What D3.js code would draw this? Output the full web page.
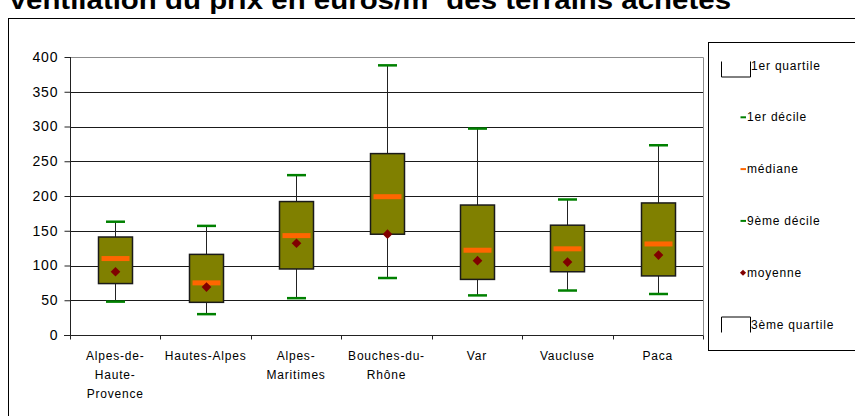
<!DOCTYPE html>
<html>
<head>
<meta charset="utf-8">
<script src="https://cdn.jsdelivr.net/npm/d3@7"></script>
<style>
  html, body { margin: 0; padding: 0; background: #fff; overflow: hidden; }
  svg { display: block; }
  text { font-family: "Liberation Sans", Arial, sans-serif; fill: #000; }
</style>
</head>
<body>
<svg id="chart" width="855" height="416"></svg>
<script>
// Départements (lignes des libellés d'axe)
const categories = ["Alpes-de-Haute-Provence", "Hautes-Alpes", "Alpes-Maritimes", "Bouches-du-Rhône", "Var", "Vaucluse", "Paca"];
const categoryLines = [["Alpes-de-", "Haute-", "Provence"], ["Hautes-Alpes"], ["Alpes-", "Maritimes"], ["Bouches-du-", "Rhône"], ["Var"], ["Vaucluse"], ["Paca"]];

// Prix en euros/m²
const decile1   = [48, 30, 53, 82, 57, 64, 59];
const quartile1 = [74, 47, 95, 145, 80, 91, 85];
const mediane   = [110, 75, 143, 199, 122, 124, 131];
const moyenne   = [91, 69, 132, 145, 107, 105, 115];
const quartile3 = [141, 116, 192, 261, 187, 158, 190];
const decile9   = [163, 157, 230, 388, 297, 195, 273];

const yTicks = [0, 50, 100, 150, 200, 250, 300, 350, 400];
const legendLabels = ["1er quartile", "1er décile", "médiane", "9ème décile", "moyenne", "3ème quartile"];
const title = "Ventilation du prix en euros/m² des terrains achetés";

const svg = d3.select("#chart");

const plot = { left: 70, right: 703, top: 57, bottom: 335 };

const x = d3.scaleBand().domain(categories).range([plot.left, plot.right]).padding(0);
const y = d3.scaleLinear().domain([0, 400]).range([plot.bottom, plot.top]);

// Title (partly clipped at the top of the page)
svg.append("text")
  .attr("x", 8).attr("y", 9)
  .attr("font-size", 26).attr("font-weight", "bold")
  .attr("textLength", 723).attr("lengthAdjust", "spacingAndGlyphs")
  .text(title);

// Outer chart frame
svg.append("rect")
  .attr("x", 8.5).attr("y", 18.5)
  .attr("width", 900).attr("height", 500)
  .attr("fill", "none").attr("stroke", "#000").attr("stroke-width", 1);

// Horizontal gridlines
svg.append("g")
  .selectAll("line")
  .data(yTicks.filter(t => t > 0 && t < 400))
  .join("line")
  .attr("x1", plot.left).attr("x2", plot.right)
  .attr("y1", d => Math.round(y(d)) + 0.5).attr("y2", d => Math.round(y(d)) + 0.5)
  .attr("stroke", "#1a1a1a").attr("stroke-width", 1);

// Plot area border (top and right)
svg.append("path")
  .attr("d", `M${plot.left},${plot.top + 0.5}H${plot.right + 0.5}V${plot.bottom}`)
  .attr("fill", "none").attr("stroke", "#8c8c8c").attr("stroke-width", 1);

// Y axis
const yAxis = svg.append("g")
  .attr("transform", `translate(${plot.left + 0.5},0)`)
  .call(d3.axisLeft(y).tickValues(yTicks).tickSize(6).tickPadding(6));
yAxis.selectAll("path, line").attr("stroke", "#222");
yAxis.select(".domain").attr("d", `M-0,${plot.top}V${plot.bottom}`);
yAxis.selectAll("text")
  .attr("font-family", "Liberation Sans, Arial, sans-serif")
  .attr("font-size", 14).attr("letter-spacing", 0.9).attr("fill", "#000");

// X axis
const xAxis = svg.append("g")
  .attr("transform", `translate(0,${plot.bottom + 0.5})`);
xAxis.append("line")
  .attr("x1", plot.left - 6).attr("x2", plot.right + 0.5)
  .attr("stroke", "#222");
xAxis.selectAll("line.tick")
  .data(categories.map(c => x(c)).concat([plot.right]))
  .join("line")
  .attr("class", "tick")
  .attr("x1", d => Math.round(d) + 0.5).attr("x2", d => Math.round(d) + 0.5)
  .attr("y1", 0).attr("y2", 4)
  .attr("stroke", "#222");

const labels = svg.append("g").selectAll("text")
  .data(categories)
  .join("text")
  .attr("text-anchor", "middle")
  .attr("font-size", 12).attr("letter-spacing", 0.8);
labels.each(function (c, i) {
  const cx = x(c) + x.bandwidth() / 2;
  d3.select(this).selectAll("tspan")
    .data(categoryLines[i])
    .join("tspan")
    .attr("x", cx)
    .attr("y", (d, j) => 359.5 + j * 19)
    .text(d => d);
});

// Box plots
const boxW = 34, capW = 19, medW = 28;
const g = svg.append("g");
categories.forEach((c, i) => {
  const cx = Math.round(x(c) + x.bandwidth() / 2);
  // Whiskers
  g.append("line")
    .attr("x1", cx + 0.5).attr("x2", cx + 0.5)
    .attr("y1", y(decile9[i])).attr("y2", y(quartile3[i]))
    .attr("stroke", "#222").attr("stroke-width", 1);
  g.append("line")
    .attr("x1", cx + 0.5).attr("x2", cx + 0.5)
    .attr("y1", y(quartile1[i])).attr("y2", y(decile1[i]))
    .attr("stroke", "#222").attr("stroke-width", 1);
  // Box between quartiles
  g.append("rect")
    .attr("x", cx - boxW / 2 + 0.5).attr("width", boxW)
    .attr("y", y(quartile3[i])).attr("height", y(quartile1[i]) - y(quartile3[i]))
    .attr("fill", "#808000").attr("stroke", "#1a1a1a").attr("stroke-width", 1.5);
  // Decile caps
  [decile1[i], decile9[i]].forEach(v => {
    g.append("line")
      .attr("x1", cx - capW / 2 + 0.5).attr("x2", cx + capW / 2 + 0.5)
      .attr("y1", y(v)).attr("y2", y(v))
      .attr("stroke", "#008000").attr("stroke-width", 2.5);
  });
  // Median
  g.append("line")
    .attr("x1", cx - medW / 2 + 0.5).attr("x2", cx + medW / 2 + 0.5)
    .attr("y1", y(mediane[i])).attr("y2", y(mediane[i]))
    .attr("stroke", "#ff6600").attr("stroke-width", 5);
  // Mean
  g.append("path")
    .attr("d", d3.symbol(d3.symbolDiamond2, 60)())
    .attr("transform", `translate(${cx + 0.5},${y(moyenne[i])})`)
    .attr("fill", "#800000");
});

// Legend
const legend = svg.append("g");
legend.append("rect")
  .attr("x", 708.5).attr("y", 42.5)
  .attr("width", 200).attr("height", 308)
  .attr("fill", "#fff").attr("stroke", "#000").attr("stroke-width", 1);

const legendY = d3.scalePoint().domain(legendLabels).range([65.5, 324.5]);
const symX = 742;

legendLabels.forEach((lab, i) => {
  const cy = legendY(lab);
  let textX = 747;
  if (i === 0) {
    legend.append("path")
      .attr("d", `M721.5,${cy - 4}V${cy + 11.5}H750.5V${cy - 4}`)
      .attr("fill", "none").attr("stroke", "#000");
    textX = 751;
  } else if (i === 5) {
    legend.append("path")
      .attr("d", `M721.5,${cy + 8}V${cy - 7.5}H750.5V${cy + 8}`)
      .attr("fill", "none").attr("stroke", "#000");
    textX = 751;
  } else if (i === 4) {
    legend.append("path")
      .attr("d", d3.symbol(d3.symbolDiamond2, 24)())
      .attr("transform", `translate(${symX + 1},${cy})`)
      .attr("fill", "#800000");
  } else {
    legend.append("line")
      .attr("x1", symX - 1.5).attr("x2", symX + 4)
      .attr("y1", cy).attr("y2", cy)
      .attr("stroke", i === 2 ? "#ff6600" : "#008000").attr("stroke-width", 2);
  }
  legend.append("text")
    .attr("x", textX).attr("y", cy + 4)
    .attr("font-size", 12).attr("letter-spacing", 0.8)
    .text(lab);
});
</script>
</body>
</html>
